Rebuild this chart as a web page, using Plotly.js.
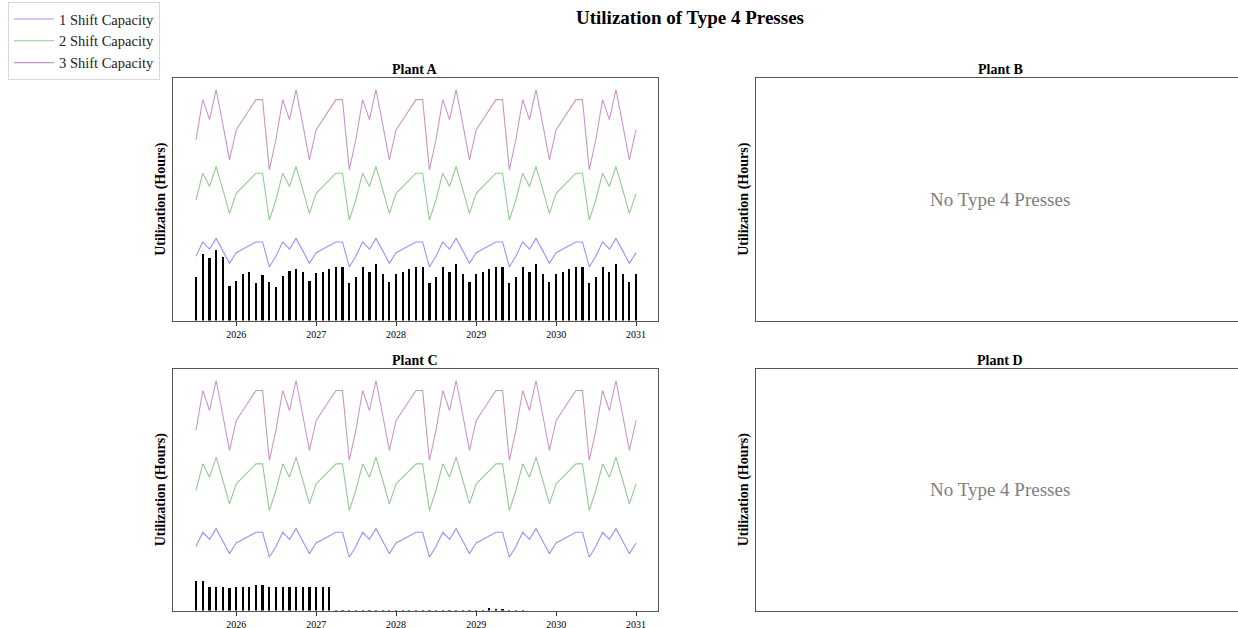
<!DOCTYPE html>
<html>
<head>
<meta charset="utf-8">
<script src="https://cdn.plot.ly/plotly-3.0.1.min.js"></script>
<style>
html,body{margin:0;padding:0;overflow:hidden;background:#fff;}
#chart{width:1250px;height:628px;}
</style>
</head>
<body>
<div id="chart"></div>
<script>
// ---- Data ----
const startMonth = '2025-07';
const monthCount = 67; // Jul 2025 .. Jan 2031
const yearTicks = ['2026-01-01','2027-01-01','2028-01-01','2029-01-01','2030-01-01','2031-01-01'];
const yearLabels = ['2026','2027','2028','2029','2030','2031'];
const plants = ['Plant A','Plant B','Plant C','Plant D'];
const seriesNames = ['1 Shift Capacity','2 Shift Capacity','3 Shift Capacity'];

const shift1Capacity = [
  144,176,160,184,156,128,
  152,160,168,176,176,120,144,176,160,184,156,128,
  152,160,168,176,176,120,144,176,160,184,156,128,
  152,160,168,176,176,120,144,176,160,184,156,128,
  152,160,168,176,176,120,144,176,160,184,156,128,
  152,160,168,176,176,120,144,176,160,184,156,128,
  152
];
const shift2Capacity = [
  270,330,300,345,292.5,240,
  285,300,315,330,330,225,270,330,300,345,292.5,240,
  285,300,315,330,330,225,270,330,300,345,292.5,240,
  285,300,315,330,330,225,270,330,300,345,292.5,240,
  285,300,315,330,330,225,270,330,300,345,292.5,240,
  285,300,315,330,330,225,270,330,300,345,292.5,240,
  285
];
const shift3Capacity = [
  405,495,450,517.5,438.75,360,
  427.5,450,472.5,495,495,337.5,405,495,450,517.5,438.75,360,
  427.5,450,472.5,495,495,337.5,405,495,450,517.5,438.75,360,
  427.5,450,472.5,495,495,337.5,405,495,450,517.5,438.75,360,
  427.5,450,472.5,495,495,337.5,405,495,450,517.5,438.75,360,
  427.5,450,472.5,495,495,337.5,405,495,450,517.5,438.75,360,
  427.5
];
const plantAUsage = [
  97,148,139,157,142,78,
  89,105,108,83,101,86,75,100,111,115,108,89,
  106,108,115,120,120,83,98,120,109,126,105,87,
  105,109,115,120,120,83,98,120,109,126,105,87,
  105,109,115,120,120,83,98,120,109,126,105,87,
  105,109,115,120,120,83,98,120,109,126,105,87,
  104
];
const plantCUsage = [
  66,66,54,54,52,50,
  54,54,54,58,58,54,54,52,52,52,52,52,
  52,52,52,2,2,2,2,2,2,2,2,2,
  2,2,2,2,2,2,2,2,2,2,2,2,
  2,2,6,4,4,2,2,2,0,0,0,0,
  0,0,0,0,0,0,0,0,0,0,0,0,
  0
];

// month dates (x categories)
const months = [];
{
  let y = +startMonth.slice(0,4), m = +startMonth.slice(5,7);
  for (let i = 0; i < monthCount; i++) {
    months.push(y + '-' + String(m).padStart(2,'0') + '-01');
    m++; if (m > 12) { m = 1; y++; }
  }
}

// ---- Layout helpers ----
const W = 1250, H = 628;
const px = x => x / W;
const py = y => 1 - y / H;
const FONT = 'Liberation Serif, Times New Roman, serif';
const colors = ['rgba(0,0,255,0.42)','rgba(0,128,0,0.42)','rgba(128,0,128,0.42)'];
const capacities = [shift1Capacity, shift2Capacity, shift3Capacity];
const yMax = 1.05 * Math.max(...shift3Capacity);

const traces = [];
function addPlant(xa, ya, usage, legend) {
  traces.push({type:'bar', x: months, y: usage, xaxis: xa, yaxis: ya,
    width: 10*86400000, marker:{color:'black', line:{width:0}}, showlegend:false, hoverinfo:'skip'});
  capacities.forEach((c, i) => {
    traces.push({type:'scatter', mode:'lines', x: months, y: c, xaxis: xa, yaxis: ya,
      name: seriesNames[i], legendgroup: 'g'+i, showlegend: legend,
      line:{color: colors[i], width: 1.1}});
  });
}
addPlant('x', 'y', plantAUsage, true);
addPlant('x3', 'y3', plantCUsage, false);
traces.push({type:'scatter', x:[], y:[], xaxis:'x2', yaxis:'y2', showlegend:false});
traces.push({type:'scatter', x:[], y:[], xaxis:'x4', yaxis:'y4', showlegend:false});

const boxAxis = {showline:true, mirror:true, linecolor:'#555', linewidth:1, showgrid:false, zeroline:false};
const dateRange = ['2025-03-18','2031-04-11'];
function xDate(domain, anchor) {
  return Object.assign({}, boxAxis, {domain, anchor, type:'date', range: dateRange,
    tickmode:'array', tickvals: yearTicks, ticktext: yearLabels, ticks:'outside', ticklen:4,
    tickcolor:'#333', tickfont:{size:10, family:FONT, color:'#000'}});
}
function xEmpty(domain, anchor) {
  return Object.assign({}, boxAxis, {domain, anchor, range:[0,1], showticklabels:false, ticks:''});
}
function yAxis(domain, anchor, range) {
  return Object.assign({}, boxAxis, {domain, anchor, range, showticklabels:false, ticks:'',
    title:{text:'<b>Utilization (Hours)</b>', font:{size:14, family:FONT, color:'#000'}, standoff:3}});
}

const topRow = [py(320.5), py(78)];
const botRow = [py(610.5), py(369)];
const leftCol = [px(173), px(658)];
const rightCol = [px(756), px(1244)];

const annotations = [];
const titlePos = [[leftCol, 78],[rightCol, 78],[leftCol, 369],[rightCol, 369]];
plants.forEach((p, i) => {
  const [col, top] = titlePos[i];
  annotations.push({text:'<b>'+p+'</b>', xref:'paper', yref:'paper', x:(col[0]+col[1])/2, y:py(top+1),
    xanchor:'center', yanchor:'bottom', showarrow:false, font:{size:14, family:FONT, color:'#000'}});
});
['x2','x4'].forEach((xa, i) => {
  const ya = i === 0 ? 'y2' : 'y4';
  annotations.push({text:'No Type 4 Presses', xref: xa+' domain', yref: ya+' domain', x:0.5, y:0.5,
    xanchor:'center', yanchor:'middle', showarrow:false, font:{size:19, family:FONT, color:'#808080'}});
});

const layout = {
  width: W, height: H,
  margin:{l:0, r:0, t:0, b:0},
  paper_bgcolor:'#fff', plot_bgcolor:'#fff',
  font:{family:FONT, color:'#000'},
  title:{text:'<b>Utilization of Type 4 Presses</b>', x: px(690), xanchor:'center', y: py(17), yanchor:'middle',
    font:{size:19, family:FONT, color:'#000'}},
  bargap:0,
  showlegend:true,
  legend:{x: px(8), y: py(2), xanchor:'left', yanchor:'top', bgcolor:'#fff', bordercolor:'#d8d8d8', borderwidth:1,
    font:{size:14.5, family:FONT, color:'#222'}, tracegroupgap:0, itemwidth:40},
  xaxis: xDate(leftCol, 'y'),
  yaxis: yAxis(topRow, 'x', [0, yMax]),
  xaxis2: xEmpty(rightCol, 'y2'),
  yaxis2: yAxis(topRow, 'x2', [0, 1]),
  xaxis3: xDate(leftCol, 'y3'),
  yaxis3: yAxis(botRow, 'x3', [0, yMax]),
  xaxis4: xEmpty(rightCol, 'y4'),
  yaxis4: yAxis(botRow, 'x4', [0, 1]),
  annotations
};

Plotly.newPlot('chart', traces, layout, {displayModeBar:false, staticPlot:true});
</script>
</body>
</html>
